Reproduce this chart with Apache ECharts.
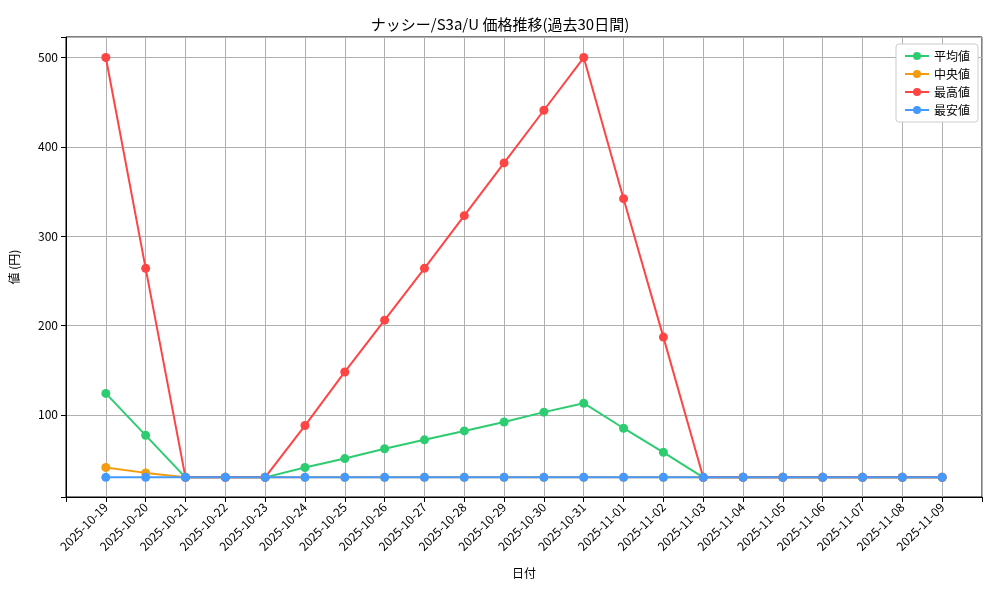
<!DOCTYPE html>
<html lang="ja">
<head>
<meta charset="UTF-8">
<title>価格推移</title>
<script src="https://cdn.jsdelivr.net/npm/echarts@6/dist/echarts.min.js"></script>
<style>
  body { margin: 0; background: #fff; }
  #chart { width: 1000px; height: 600px; }
</style>
</head>
<body>
<div id="chart"></div>
<script>
var dates = ['2025-10-19','2025-10-20','2025-10-21','2025-10-22','2025-10-23','2025-10-24','2025-10-25','2025-10-26','2025-10-27','2025-10-28','2025-10-29','2025-10-30','2025-10-31','2025-11-01','2025-11-02','2025-11-03','2025-11-04','2025-11-05','2025-11-06','2025-11-07','2025-11-08','2025-11-09'];
var avgVals = [124, 77, 30, 30, 30, 41, 51, 62, 72, 82, 92, 103, 113, 85, 58, 30, 30, 30, 30, 30, 30, 30];
var medVals = [41, 35, 30, 30, 30, 30, 30, 30, 30, 30, 30, 30, 30, 30, 30, 30, 30, 30, 30, 30, 30, 30];
var maxVals = [500, 264, 30, 30, 30, 88, 148, 206, 264, 323, 382, 441, 500, 342, 187, 30, 30, 30, 30, 30, 30, 30];
var minVals = [30, 30, 30, 30, 30, 30, 30, 30, 30, 30, 30, 30, 30, 30, 30, 30, 30, 30, 30, 30, 30, 30];

function pairs (vals) {
    return vals.map(function (v, i) { return [i, v]; });
}

function line (name, vals, color) {
    return {
        name: name, type: 'line', data: pairs(vals),
        symbol: 'circle', symbolSize: 9,
        itemStyle: { color: color },
        lineStyle: { color: color, width: 2 }
    };
}

var font = '"Noto Sans CJK JP", sans-serif';
var chart = echarts.init(document.getElementById('chart'));
chart.setOption({
    animation: false,
    textStyle: { fontFamily: font },
    title: {
        text: 'ナッシー/S3a/U 価格推移(過去30日間)', left: 'center', top: 12,
        textStyle: { fontSize: 15, fontWeight: 'normal', color: '#000', fontFamily: font }
    },
    legend: {
        orient: 'vertical', right: 22, top: 44,
        backgroundColor: '#fff', borderColor: '#ccc', borderWidth: 1, borderRadius: 3,
        padding: [6, 8], itemGap: 6, itemWidth: 24, itemHeight: 10,
        textStyle: { fontSize: 12, color: '#000' },
        data: ['平均値', '中央値', '最高値', '最安値']
    },
    grid: { left: 66, right: 18, top: 37, bottom: 103, show: true, borderColor: '#000', borderWidth: 1 },
    xAxis: {
        type: 'value', min: -1, max: 22, interval: 1,
        name: '日付', nameLocation: 'middle', nameGap: 70,
        nameTextStyle: { fontSize: 12, color: '#000' },
        axisLine: { onZero: false, lineStyle: { color: '#000' } },
        axisTick: { show: true, lineStyle: { color: '#000' } },
        axisLabel: {
            rotate: 45, fontSize: 12, color: '#000', margin: 8,
            formatter: function (v) { return dates[v] || ''; }
        },
        splitLine: { show: true, lineStyle: { color: '#b0b0b0' } }
    },
    yAxis: {
        type: 'value', min: 8, max: 523,
        name: '値 (円)', nameLocation: 'middle', nameGap: 46,
        nameTextStyle: { fontSize: 12, color: '#000' },
        axisLine: { show: true, onZero: false, lineStyle: { color: '#000' } },
        axisTick: { show: true, lineStyle: { color: '#000' } },
        axisLabel: {
            fontSize: 12, color: '#000',
            formatter: function (v) { return v % 100 === 0 ? v : ''; }
        },
        splitLine: { show: true, lineStyle: { color: '#b0b0b0' } }
    },
    series: [
        line('平均値', avgVals, '#2ecc71'),
        line('中央値', medVals, '#f39c12'),
        line('最高値', maxVals, '#ff4444'),
        line('最安値', minVals, '#4499ff')
    ]
});
</script>
</body>
</html>
